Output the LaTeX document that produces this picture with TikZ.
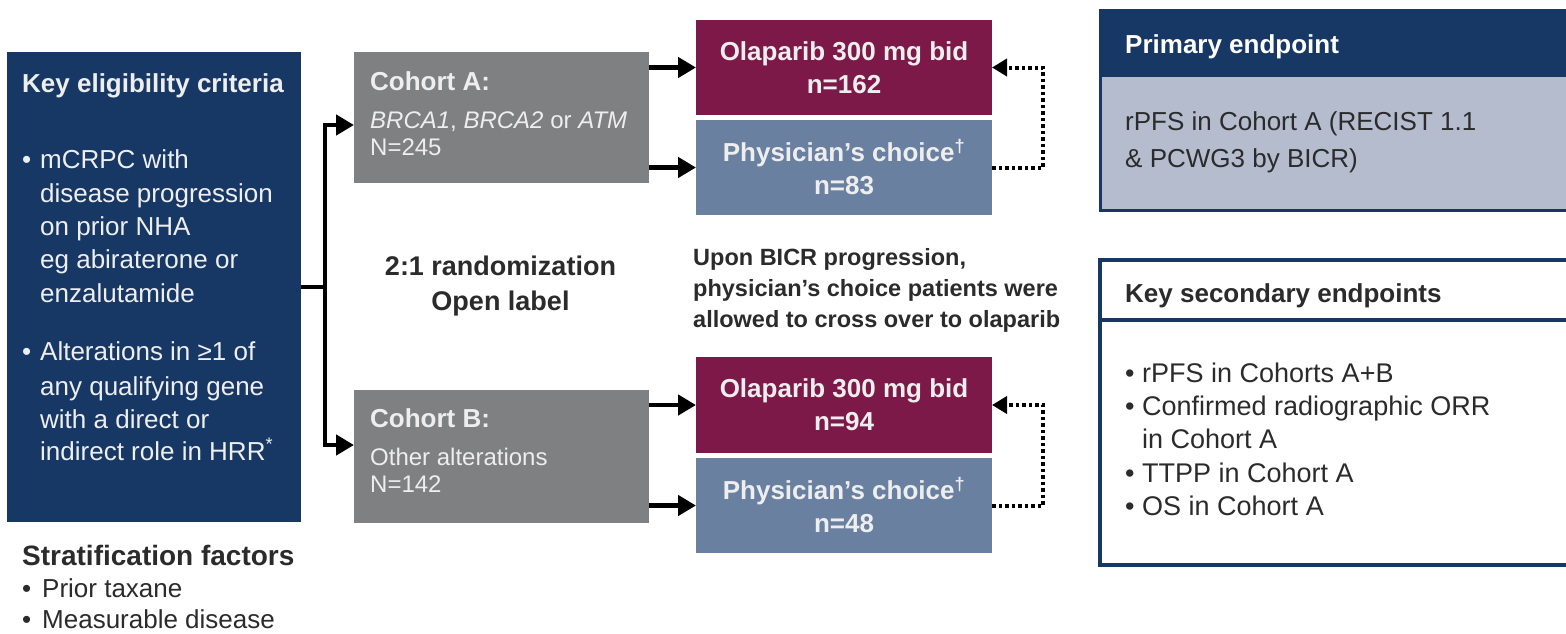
\documentclass[tikz,border=0pt]{standalone}
\usepackage{fontspec}
\setmainfont{Liberation Sans}
\usetikzlibrary{arrows.meta}
\definecolor{navy}{HTML}{173864}
\definecolor{cohortgray}{HTML}{7F8082}
\definecolor{maroon}{HTML}{7C1949}
\definecolor{slate}{HTML}{6A80A1}
\definecolor{paleblue}{HTML}{B4BCCE}
\definecolor{boxtext}{HTML}{EEEEEE}
\definecolor{darktext}{HTML}{2B2B2B}
\newcommand{\fr}[1]{\fontsize{#1}{#1}\selectfont}
\newcommand{\fb}[1]{\fontsize{#1}{#1}\selectfont\bfseries}
\tikzset{
  boxbase/.style={inner sep=0pt, outer sep=0pt, draw=none},
  lt/.style={inner sep=0pt, anchor=base west, text=boxtext},
  dt/.style={inner sep=0pt, anchor=base west, text=darktext},
  treat/.style={boxbase, minimum width=296, align=center, text=boxtext, font=\fontsize{26}{33}\selectfont\bfseries},
  conn/.style={line width=4.5pt, black},
  arr/.style={line width=4.5pt, black, -{Triangle[length=18pt,width=20pt]}},
  dotarr/.style={line width=4pt, black, dash pattern=on 3.5pt off 3pt, -{Triangle[length=15pt,width=17pt]}}
}
\begin{document}
\begin{tikzpicture}[x=1pt,y=-1pt]
\useasboundingbox (0,0) rectangle (1566,633);
\clip (0,0) rectangle (1566,633);
\fill[white] (0,0) rectangle (1566,633);

% eligibility box
\node[boxbase, fill=navy, minimum width=294, minimum height=470] (elig) at (154,287) {};
\node[lt, font=\fb{26}] (eligT) at (22,92) {Key eligibility criteria};
\node[lt, font=\fr{26}] (eb1) at (22,168) {•};
\node[lt, font=\fr{26}] (e1) at (40,168) {mCRPC with};
\node[lt, font=\fr{26}] (e2) at (40,202) {disease progression};
\node[lt, font=\fr{26}] (e3) at (40,235) {on prior NHA};
\node[lt, font=\fr{26}] (e4) at (40,268) {eg abiraterone or};
\node[lt, font=\fr{26}] (e5) at (40,302) {enzalutamide};
\node[lt, font=\fr{26}] (eb2) at (22,360) {•};
\node[lt, font=\fr{26}] (e6) at (40,360) {Alterations in ≥1 of};
\node[lt, font=\fr{26}] (e7) at (40,395) {any qualifying gene};
\node[lt, font=\fr{26}] (e8) at (40,428) {with a direct or};
\node[lt, font=\fr{26}] (e9) at (40,460) {indirect role in HRR\textsuperscript{*}};

% stratification
\node[dt, font=\fb{28}] (strT) at (22,565) {Stratification factors};
\node[dt, font=\fr{26}] (sb1) at (22,597) {•};
\node[dt, font=\fr{26}] (s1) at (42,597) {Prior taxane};
\node[dt, font=\fr{26}] (sb2) at (22,628) {•};
\node[dt, font=\fr{26}] (s2) at (42,628) {Measurable disease};

% cohorts
\node[boxbase, fill=cohortgray, minimum width=295, minimum height=131] (cohA) at (501.5,117.5) {};
\node[lt, font=\fb{26}] (cA1) at (370,90) {Cohort A:};
\node[lt, font=\fr{24}] (cA2) at (370,128) {\textit{BRCA1}, \textit{BRCA2} or \textit{ATM}};
\node[lt, font=\fr{24}] (cA3) at (370,155) {N=245};

\node[boxbase, fill=cohortgray, minimum width=295, minimum height=133] (cohB) at (501.5,456.5) {};
\node[lt, font=\fb{26}] (cB1) at (370,427) {Cohort B:};
\node[lt, font=\fr{24}] (cB2) at (370,465) {Other alterations};
\node[lt, font=\fr{24}] (cB3) at (370,492) {N=142};

% treatment arms
\node[treat, fill=maroon, minimum height=95] (olaA) at (844,67.5) {Olaparib 300 mg bid\\n=162};
\node[treat, fill=slate, minimum height=95] (physA) at (844,167.5) {Physician’s choice\textsuperscript{†}\\n=83};
\node[treat, fill=maroon, minimum height=96] (olaB) at (844,405) {Olaparib 300 mg bid\\n=94};
\node[treat, fill=slate, minimum height=95] (physB) at (844,505.5) {Physician’s choice\textsuperscript{†}\\n=48};

% middle texts
\node[dt, anchor=base, font=\fb{27}] (rand1) at (500.5,275) {2:1 randomization};
\node[dt, anchor=base, font=\fb{27}] (rand2) at (500.5,310) {Open label};
\node[dt, font=\fb{23.5}] (up1) at (693,265) {Upon BICR progression,};
\node[dt, font=\fb{23.5}] (up2) at (693,296) {physician’s choice patients were};
\node[dt, font=\fb{23.5}] (up3) at (693,327) {allowed to cross over to olaparib};

% primary endpoint
\node[boxbase, fill=paleblue, draw=navy, line width=3pt, minimum width=500, minimum height=200] (prim) at (1350,110) {};
\node[boxbase, fill=navy, minimum width=500, minimum height=67, anchor=north west] (primH) at (prim.north west) {};
\node[lt, font=\fb{26}, text=white] (primT) at (1125,53) {Primary endpoint};
\node[dt, font=\fr{26}] (p1) at (1125,130) {rPFS in Cohort A (RECIST 1.1};
\node[dt, font=\fr{26}] (p2) at (1125,167) {\& PCWG3 by BICR)};

% secondary endpoints
\node[boxbase, fill=white, draw=navy, line width=3.5pt, minimum width=500, minimum height=305] (sec) at (1350,412.5) {};
\node[boxbase, draw=navy, line width=3.5pt, minimum width=500, minimum height=60, anchor=north west] (secH) at (sec.north west) {};
\node[dt, font=\fb{26}] (secT) at (1125,302) {Key secondary endpoints};
\node[dt, font=\fr{27}] (qb1) at (1125,382) {•};
\node[dt, font=\fr{27}] (q1) at (1142,382) {rPFS in Cohorts A+B};
\node[dt, font=\fr{27}] (qb2) at (1125,415) {•};
\node[dt, font=\fr{27}] (q2) at (1142,415) {Confirmed radiographic ORR};
\node[dt, font=\fr{27}] (q3) at (1142,448) {in Cohort A};
\node[dt, font=\fr{27}] (qb4) at (1125,482) {•};
\node[dt, font=\fr{27}] (q4) at (1142,482) {TTPP in Cohort A};
\node[dt, font=\fr{27}] (qb5) at (1125,515) {•};
\node[dt, font=\fr{27}] (q5) at (1142,515) {OS in Cohort A};

% connectors
\coordinate (split) at (325,287);
\draw[conn] (elig.east) -- (split);
\draw[arr] (split) |- ([yshift=-7.5pt]cohA.west);
\draw[arr] (split) |- ([yshift=11.5pt]cohB.west);
\draw[arr] (cohA.east |- olaA.west) -- (olaA.west);
\draw[arr] (cohA.east |- physA.west) -- (physA.west);
\draw[arr] (cohB.east |- olaB.west) -- (olaB.west);
\draw[arr] (cohB.east |- physB.west) -- (physB.west);
\draw[dotarr] (physA.east) -- ++(51,0) |- (olaA.east);
\draw[dotarr] (physB.east) -- ++(51,0) |- (olaB.east);
\end{tikzpicture}
\end{document}
